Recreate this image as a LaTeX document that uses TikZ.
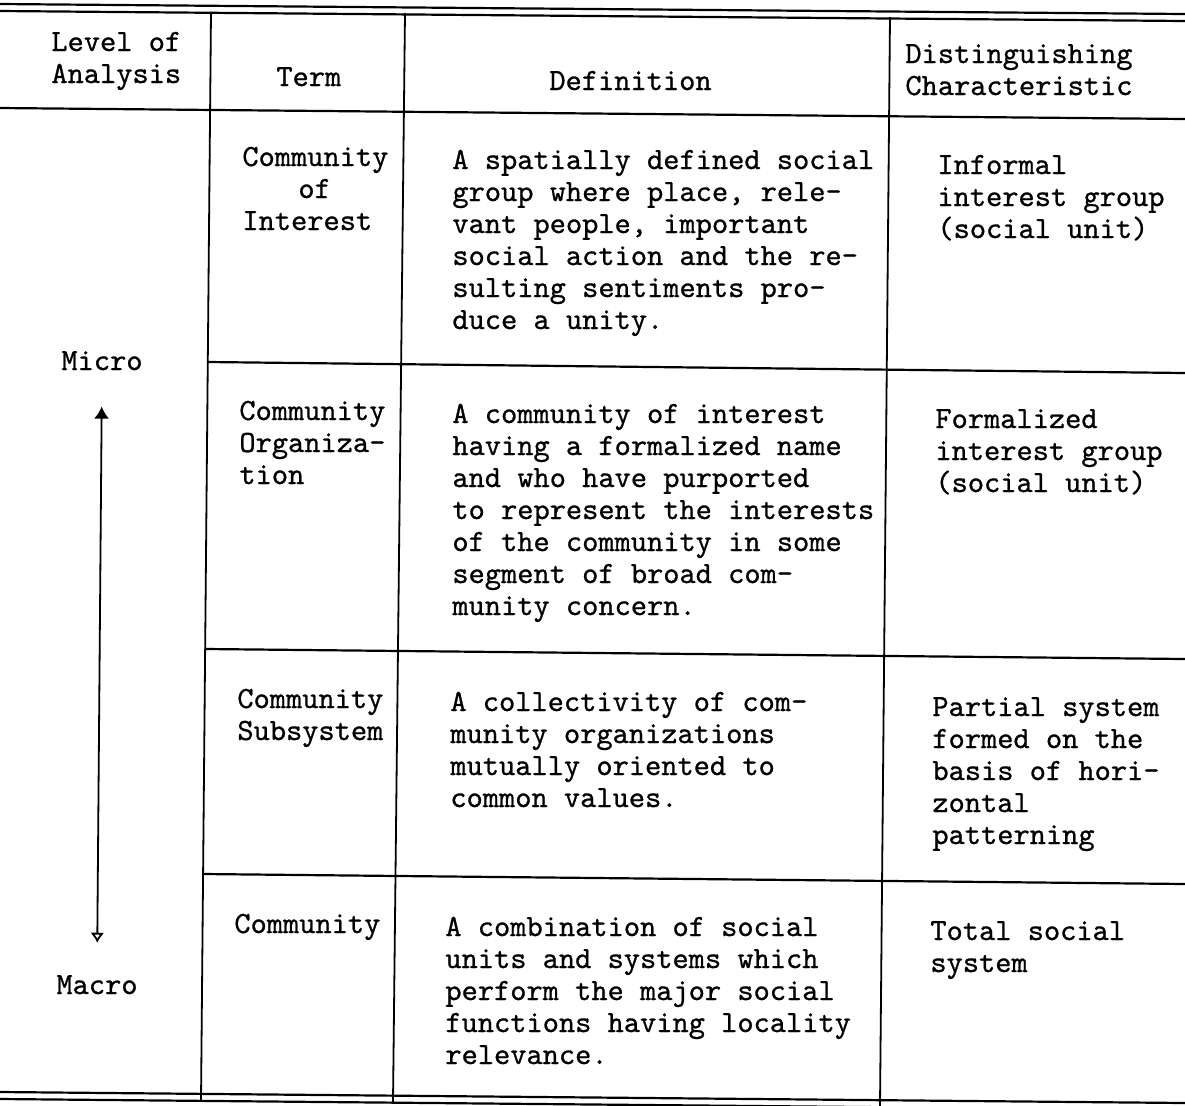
\documentclass[tikz,border=0pt]{standalone}
\usepackage{fontspec}
\setmonofont{lmmono10-regular.otf}[FakeBold=0.8]
\usetikzlibrary{arrows.meta}

\begin{document}
\begin{tikzpicture}[
  x=0.5pt, y=-0.5pt,
  tblrule/.style = {line width=1.1pt},
  tbldiv/.style = {line width=0.9pt},
  tblcell/.style = {anchor=base west, align=left, inner sep=0pt,
    font=\ttfamily\fontsize{15.45}{16}\selectfont},
  tbllevel/.style = {tblcell, anchor=base},
  tblarrow/.style = {line width=0.9pt,
    {Latex[length=6pt,width=7.5pt]}-{Latex[open,length=5pt,width=7pt]}}
]
  \useasboundingbox (0,0) rectangle (1185,1105);
  % double rules top and bottom
  \draw[tblrule] (0,4) -- (1185,14);
  \draw[tblrule] (0,11) -- (1185,21);
  \draw[tblrule] (0,1092) -- (1185,1103);
  \draw[tblrule] (0,1099) -- (1185,1110);
  % header rule
  \draw[tblrule] (0,108) -- (1185,119);
  % row rules (not under the level column)
  \draw[tblrule] (208,362) -- (1185,373);
  \draw[tblrule] (206,649) -- (1185,659);
  \draw[tblrule] (203,874) -- (1185,884);
  % column dividers
  \draw[tbldiv] (211,12) -- (201,1101);
  \draw[tbldiv] (405,13) -- (393,1102);
  \draw[tbldiv] (890,17) -- (880,1106);

  % header (base = last line)
  \node[tblcell] (lvlhead) at (51,83) {Level of\\Analysis};
  \node[tblcell] (termhead) at (276,86) {Term};
  \node[tblcell] (defhead) at (549,90) {Definition};
  \node[tblcell] (disthead) at (905,95) {Distinguishing\\Characteristic};

  % community of interest
  \node[tblcell] (term1) at (242,230) {Community\\\hspace*{28pt}of\\Interest};
  \node[tblcell] (def1) at (452,329) {A spatially defined social\\group where place, rele-\\vant people, important\\social action and the re-\\sulting sentiments pro-\\duce a unity.};
  \node[tblcell] (dist1) at (937,238) {Informal\\interest group\\(social unit)};

  % community organization
  \node[tblcell] (term2) at (239,484) {Community\\Organiza-\\tion};
  \node[tblcell] (def2) at (452,615) {A community of interest\\having a formalized name\\and who have purported\\to represent the interests\\of the community in some\\segment of broad com-\\munity concern.};
  \node[tblcell] (dist2) at (935,492) {Formalized\\interest group\\(social unit)};

  % community subsystem
  \node[tblcell] (term3) at (237,740) {Community\\Subsystem};
  \node[tblcell] (def3) at (450,807) {A collectivity of com-\\munity organizations\\mutually oriented to\\common values.};
  \node[tblcell] (dist3) at (932,844) {Partial system\\formed on the\\basis of hori-\\zontal\\patterning};

  % community
  \node[tblcell] (term4) at (234,933) {Community};
  \node[tblcell] (def4) at (445,1064) {A combination of social\\units and systems which\\perform the major social\\functions having locality\\relevance.};
  \node[tblcell] (dist4) at (930,972) {Total social\\system};

  % level of analysis
  \node[tbllevel] (micro) at (102,370) {Micro};
  \node[tbllevel] (macro) at (97,994) {Macro};
  \draw[tblarrow, shorten <=18pt, shorten >=16pt] (micro.south) -- (macro.north);
\end{tikzpicture}
\end{document}
